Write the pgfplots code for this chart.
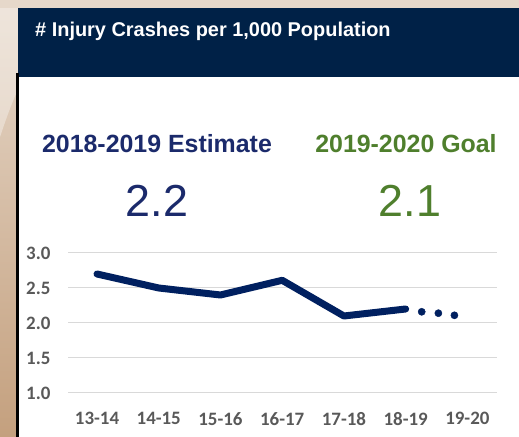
\documentclass[border=0pt]{standalone}
\usepackage{pgfplots}
\pgfplotsset{compat=1.18}
\usepackage{fontspec}
\setmainfont{Liberation Sans}
\newfontfamily\tickfont{Carlito}
\definecolor{hdr}{HTML}{002147}
\definecolor{estc}{HTML}{1B2A6B}
\definecolor{goalc}{HTML}{4F7F2D}
\definecolor{linec}{HTML}{002060}
\definecolor{tickc}{HTML}{595959}
\definecolor{gridc}{HTML}{D9D9D9}
\definecolor{bgtop}{HTML}{E6D8CA}
\definecolor{bgbot}{HTML}{C4A07E}
\begin{document}
\begin{tikzpicture}[x=1bp,y=1bp]
\path[use as bounding box] (0,0) rectangle (519,437);
% background
\shade[top color=bgtop, bottom color=bgbot] (0,0) rectangle (519,437);
\fill[white,opacity=0.35] (0,300) .. controls (20,360) and (40,410) .. (120,437) -- (0,437) -- cycle;
\fill[bgtop] (0,429) rectangle (519,437);
% header
\fill[hdr] (18,360) rectangle (519,429);
\fill[white] (18,0) rectangle (519,360);
\fill[black] (15.5,0) rectangle (18.5,364);
\node[anchor=base west,text=white,font=\bfseries\fontsize{20}{24}\selectfont,inner sep=0] at (35,400) {\# Injury Crashes per 1,000 Population};
\node[anchor=base,text=estc,font=\bfseries\fontsize{25}{30}\selectfont,inner sep=0] at (157,284) {2018-2019 Estimate};
\node[anchor=base,text=goalc,font=\bfseries\fontsize{25}{30}\selectfont,inner sep=0] at (406,284) {2019-2020 Goal};
\node[anchor=base,text=estc,font=\fontsize{45}{54}\selectfont,inner sep=0] at (157,220) {2.2};
\node[anchor=base,text=goalc,font=\fontsize{45}{54}\selectfont,inner sep=0] at (410,220) {2.1};
\begin{axis}[
  at={(68bp,44bp)}, anchor=south west,
  scale only axis, width=429bp, height=140bp,
  xmin=-0.47, xmax=6.48, ymin=1, ymax=3,
  axis line style={draw=none},
  major tick style={draw=none},
  ymajorgrids, major grid style={gridc, line width=1bp},
  xtick={0,1,2,3,4,5,6},
  xticklabels={13-14,14-15,15-16,16-17,17-18,18-19,19-20},
  ytick={1,1.5,2,2.5,3},
  yticklabel style={/pgf/number format/fixed,/pgf/number format/fixed zerofill,/pgf/number format/precision=1, xshift=-14bp},
  xticklabel style={yshift=-16bp},
  /pgf/number format/assume math mode=true,
  tick label style={font=\tickfont\bfseries\fontsize{19}{22}\selectfont, text=tickc},
  clip=false,
]
\addplot[linec, line width=7bp, line cap=round, line join=round] coordinates {
(0,2.7) (1,2.5) (2,2.4) (3,2.61) (4,2.1) (5,2.2)};
\addplot[only marks, mark=*, mark size=3.6bp, linec, mark options={draw=linec, fill=linec}] coordinates {
(5.26,2.16) (5.53,2.14) (5.79,2.11)};
\end{axis}
\end{tikzpicture}
\end{document}
